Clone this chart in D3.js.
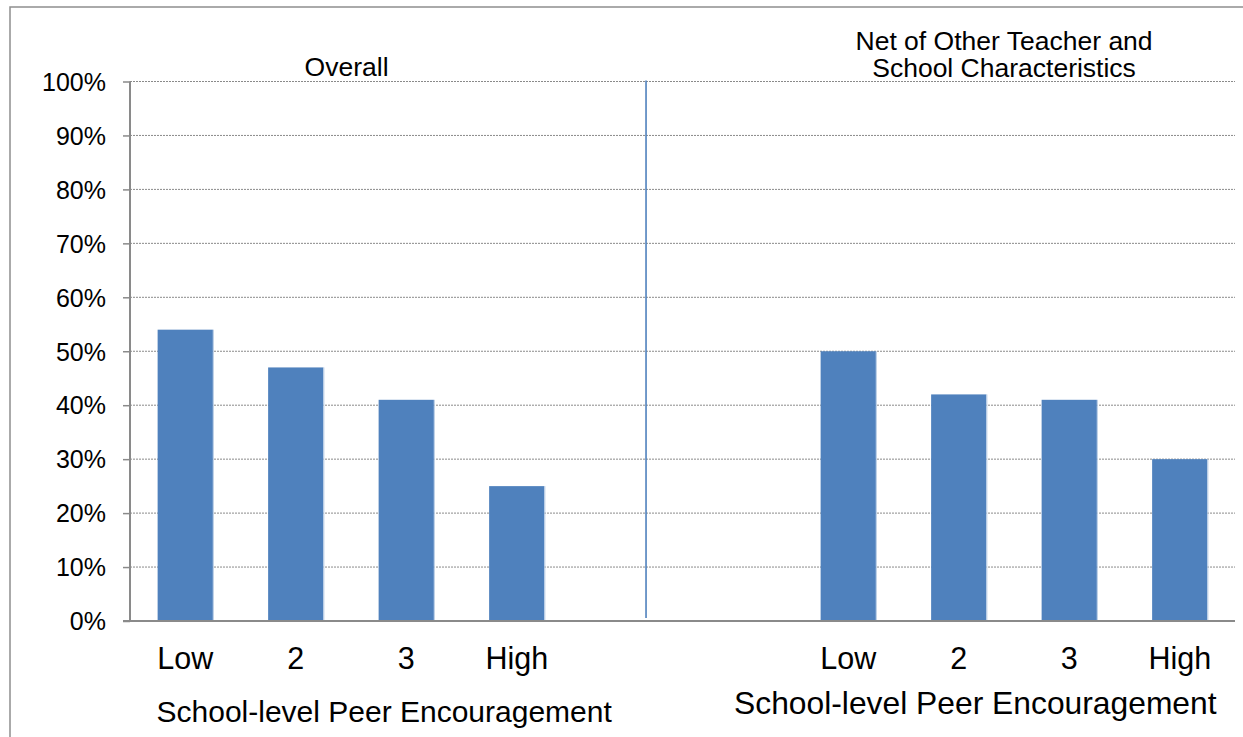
<!DOCTYPE html>
<html>
<head>
<meta charset="utf-8">
<script src="https://cdn.jsdelivr.net/npm/d3@7/dist/d3.min.js"></script>
<style>
  html, body { margin: 0; padding: 0; background: #fff; }
  svg { display: block; font-family: "Liberation Sans", Arial, Helvetica, sans-serif; }
</style>
</head>
<body>
<svg id="chart" width="1243" height="737"></svg>
<script>
// Share of teachers, by school-level peer encouragement quartile
const categories = ["Low", "2", "3", "High"];
const overallValues = [54, 47, 41, 25];
const netValues = [50, 42, 41, 30];
const yTicks = [0, 10, 20, 30, 40, 50, 60, 70, 80, 90, 100];
const panelTitles = [["Overall"], ["Net of Other Teacher and", "School Characteristics"]];
const axisTitle = "School-level Peer Encouragement";

const svg = d3.select("#chart");
const W = 1243, H = 737;
const plotLeft = 130, plotRight = 1235, plotTop = 81.5, plotBottom = 621;

// Ten category slots: four per panel with two empty slots between panels
const slots = [
  ...categories.map(c => "overall|" + c),
  "gap|a", "gap|b",
  ...categories.map(c => "net|" + c)
];
const bars = [
  ...categories.map((c, i) => ({ key: "overall|" + c, value: overallValues[i] })),
  ...categories.map((c, i) => ({ key: "net|" + c, value: netValues[i] }))
];

const x = d3.scaleBand().domain(slots).range([plotLeft, plotRight]).paddingInner(0.5).paddingOuter(0.25);
const slotUnits = d3.scaleLinear().domain([0, slots.length]).range([plotLeft, plotRight]);
const y = d3.scaleLinear().domain([0, 100]).range([plotBottom, plotTop]);

// outer frame
svg.append("rect")
  .attr("x", 10).attr("y", 7)
  .attr("width", W + 20).attr("height", H + 20)
  .attr("fill", "none").attr("stroke", "#8e8e8e").attr("stroke-width", 1.5);

// dotted gridlines
svg.append("g")
  .selectAll("line")
  .data(yTicks.filter(t => t > 0))
  .join("line")
  .attr("x1", plotLeft).attr("x2", plotRight)
  .attr("y1", d => y(d)).attr("y2", d => y(d))
  .attr("stroke", "#8a8a8a").attr("stroke-width", 1)
  .attr("stroke-dasharray", "2,1");

// bars
svg.append("g")
  .selectAll("rect")
  .data(bars)
  .join("rect")
  .attr("x", d => x(d.key))
  .attr("width", x.bandwidth())
  .attr("y", d => y(d.value))
  .attr("height", d => y(0) - y(d.value))
  .attr("fill", "#4f81bd");

svg.append("g")
  .selectAll("line")
  .data(bars)
  .join("line")
  .attr("x1", d => x(d.key) + x.bandwidth() + 0.5)
  .attr("x2", d => x(d.key) + x.bandwidth() + 0.5)
  .attr("y1", d => y(d.value))
  .attr("y2", y(0))
  .attr("stroke", "#b9cde5").attr("stroke-width", 1);

// panel divider
const dividerAt = 4.67;
svg.append("line")
  .attr("x1", slotUnits(dividerAt)).attr("x2", slotUnits(dividerAt))
  .attr("y1", y(100) - 1).attr("y2", y(0) - 3)
  .attr("stroke", "#4f81bd").attr("stroke-width", 1.6);

// y axis
const yAxis = svg.append("g")
  .attr("transform", `translate(${plotLeft},0)`)
  .call(d3.axisLeft(y).tickValues(yTicks).tickSize(7).tickPadding(17).tickFormat(d => d + "%"));
yAxis.select(".domain").attr("stroke", "#8a8a8a").attr("stroke-width", 2)
  .attr("d", `M0,${plotTop}V${plotBottom}`);
yAxis.selectAll(".tick line").attr("stroke", "#8a8a8a").attr("stroke-width", 1.5);
yAxis.selectAll(".tick text").attr("font-size", 25).attr("fill", "#000")
  .attr("font-family", "Liberation Sans, Arial, sans-serif").attr("dy", "0.35em");

// x axis baseline + category labels
const xAxis = svg.append("g")
  .attr("transform", `translate(0,${plotBottom})`)
  .call(d3.axisBottom(x).tickSize(0).tickPadding(0)
    .tickFormat(d => d.startsWith("gap") ? "" : d.split("|")[1]));
xAxis.select(".domain").attr("stroke", "#8a8a8a").attr("stroke-width", 2)
  .attr("d", `M${plotLeft - 7},0H${plotRight}`);
xAxis.selectAll(".tick text").attr("font-size", 30.5).attr("fill", "#000")
  .attr("font-family", "Liberation Sans, Arial, sans-serif")
  .attr("dy", null).attr("y", 48);

// axis titles
svg.append("text")
  .attr("x", slotUnits(2.3)).attr("y", 722)
  .attr("text-anchor", "middle").attr("font-size", 30).attr("fill", "#000")
  .text(axisTitle);
svg.append("text")
  .attr("x", slotUnits(7.65)).attr("y", 714)
  .attr("text-anchor", "middle").attr("font-size", 31.8).attr("fill", "#000")
  .text(axisTitle);

// panel titles
const titleCenters = [1.96, 7.91];
const titleBaselines = [[76], [50, 77]];
panelTitles.forEach((lines, p) => {
  lines.forEach((line, i) => {
    svg.append("text")
      .attr("x", slotUnits(titleCenters[p])).attr("y", titleBaselines[p][i])
      .attr("text-anchor", "middle").attr("font-size", 26.5).attr("fill", "#000")
      .text(line);
  });
});
</script>
</body>
</html>
